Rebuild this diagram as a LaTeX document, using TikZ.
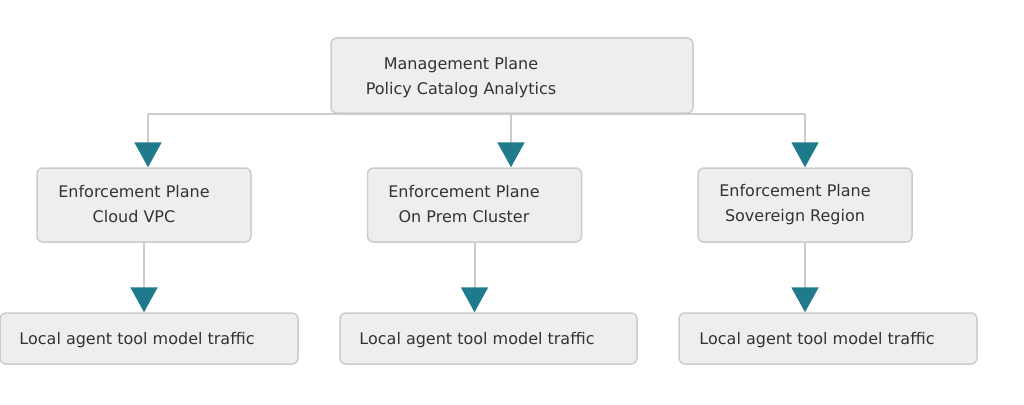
\documentclass[tikz,border=0pt]{standalone}
\usepackage{fontspec}
\setmainfont{DejaVu Sans}
\usetikzlibrary{arrows.meta}
\definecolor{boxfill}{HTML}{EEEEEE}
\definecolor{boxline}{HTML}{CCCCCC}
\definecolor{conn}{HTML}{CCCCCC}
\definecolor{tip}{HTML}{1F7A8C}
\definecolor{txt}{HTML}{333333}
\tikzset{
  box/.style={draw=boxline, fill=boxfill, line width=1.5pt, rounded corners=6pt, inner sep=0pt},
  lbl/.style={text=txt, font=\fontsize{16pt}{25pt}\selectfont, align=center, inner sep=0pt},
  conn/.style={draw=conn, line width=2pt},
  arr/.style={conn, -{Triangle[width=27pt,length=25pt,color=tip]}},
}
\begin{document}
\begin{tikzpicture}[x=1pt,y=-1pt]
\useasboundingbox (0,0) rectangle (1024,404);
% boxes
\node[box, minimum width=362pt, minimum height=75pt] (m) at (512,75.5) {};
\node[lbl] (mt) at (461,77.5) {Management Plane\\Policy Catalog Analytics};

\node[box, minimum width=214pt, minimum height=74pt] (e1) at (144,205) {};
\node[box, minimum width=214pt, minimum height=74pt] (e2) at (474.5,205) {};
\node[box, minimum width=214pt, minimum height=74pt] (e3) at (805,205) {};
\node[lbl] (e1t) at (134,204.5) {Enforcement Plane\\Cloud VPC};
\node[lbl] (e2t) at (464,204.5) {Enforcement Plane\\On Prem Cluster};
\node[lbl] (e3t) at (795,204.5) {Enforcement Plane\\Sovereign Region};

\node[box, minimum width=298pt, minimum height=51pt] (b1) at (149,338.5) {};
\node[box, minimum width=297pt, minimum height=51pt] (b2) at (488.5,338.5) {};
\node[box, minimum width=298pt, minimum height=51pt] (b3) at (828,338.5) {};
\node[lbl] (b1t) at (137,340) {Local agent tool model traffic};
\node[lbl] (b2t) at (477,340) {Local agent tool model traffic};
\node[lbl] (b3t) at (817,340) {Local agent tool model traffic};

% connectors
\coordinate (jL) at (148,113.5);
\coordinate (jM) at (511,113.5);
\coordinate (jR) at (805,113.5);
\draw[conn] (jL) -- (jR);
\draw[arr] (jL) -- (jL |- e1.north);
\draw[arr] (jM) -- (jM |- e2.north);
\draw[arr] (jR) -- (jR |- e3.north);
\draw[arr] (e1.south) -- (e1.south |- b1.north);
\draw[arr] (e2.south) -- (e2.south |- b2.north);
\draw[arr] (e3.south) -- (e3.south |- b3.north);
\end{tikzpicture}
\end{document}
